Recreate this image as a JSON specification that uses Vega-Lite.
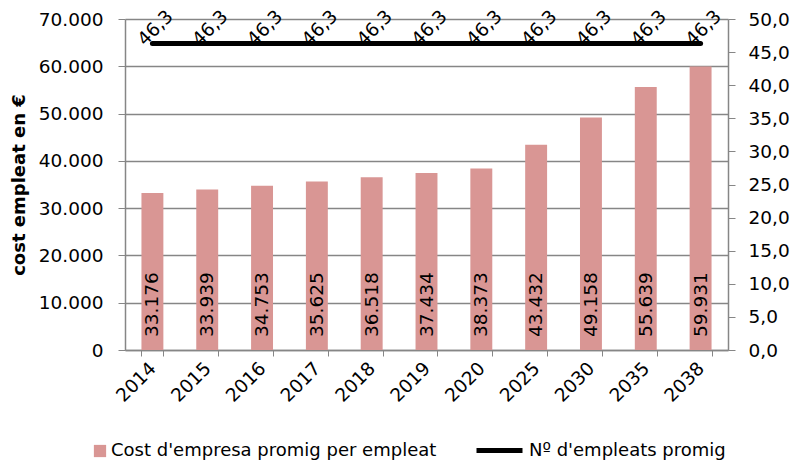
{
  "$schema": "https://vega.github.io/schema/vega-lite/v6.json",
  "width": 603,
  "height": 331,
  "autosize": {"type": "none"},
  "padding": {"left": 125, "top": 19, "right": 64, "bottom": 115},
  "background": "white",
  "config": {
    "locale": {"number": {"decimal": ",", "thousands": ".", "grouping": [3], "currency": ["", " €"]}},
    "font": "DejaVu Sans",
    "view": {"stroke": null},
    "axis": {"labelFont": "DejaVu Sans", "labelFontSize": 18.5, "labelColor": "black", "domainColor": "#868686", "tickColor": "#868686", "gridColor": "#868686", "titleFont": "DejaVu Sans", "labelOverlap": false},
    "legend": {"labelFont": "DejaVu Sans", "labelFontSize": 18, "labelColor": "black", "labelLimit": 600}
  },
  "data": {
    "values": [
      {"any": "2014", "cost": 33176, "emp": 46.3},
      {"any": "2015", "cost": 33939, "emp": 46.3},
      {"any": "2016", "cost": 34753, "emp": 46.3},
      {"any": "2017", "cost": 35625, "emp": 46.3},
      {"any": "2018", "cost": 36518, "emp": 46.3},
      {"any": "2019", "cost": 37434, "emp": 46.3},
      {"any": "2020", "cost": 38373, "emp": 46.3},
      {"any": "2025", "cost": 43432, "emp": 46.3},
      {"any": "2030", "cost": 49158, "emp": 46.3},
      {"any": "2035", "cost": 55639, "emp": 46.3},
      {"any": "2038", "cost": 59931, "emp": 46.3}
    ]
  },
  "encoding": {
    "x": {
      "field": "any", "type": "nominal", "sort": null,
      "scale": {"paddingInner": 0.6, "paddingOuter": 0.3},
      "axis": {"title": null, "labelAngle": -45, "labelAlign": "right", "labelBaseline": "middle", "tickBand": "extent", "tickSize": 6, "labelPadding": 9, "domainWidth": 1.5, "grid": false, "labelOverlap": false}
    }
  },
  "layer": [
    {
      "encoding": {
        "y": {"field": "cost", "type": "quantitative", "scale": {"domain": [0, 70000]},
          "axis": {"title": "cost empleat en €", "titleFontSize": 18, "titleFontWeight": "bold", "titlePadding": 10, "format": ",d", "values": [0,10000,20000,30000,40000,50000,60000,70000], "tickSize": 7, "labelPadding": 15, "grid": true, "gridWidth": 1.5, "domainWidth": 1.5, "labelOverlap": false}}
      },
      "layer": [
        {
          "mark": {"type": "bar"},
          "encoding": {
            "fill": {"datum": "Cost d'empresa promig per empleat", "type": "nominal",
              "scale": {"range": ["#D99694"]},
              "legend": {"title": null, "orient": "none", "legendX": -34, "legendY": 423, "symbolType": "square", "symbolSize": 150, "symbolStrokeWidth": 0, "labelOffset": 2, "padding": 0}}
          }
        },
        {
          "mark": {"type": "text", "angle": -90, "align": "left", "baseline": "middle", "dx": 13, "fontSize": 18.5, "color": "black"},
          "encoding": {
            "y": {"datum": 0, "type": "quantitative"},
            "text": {"field": "cost", "type": "quantitative", "format": ",d"}
          }
        }
      ]
    },
    {
      "encoding": {
        "y": {"field": "emp", "type": "quantitative", "scale": {"domain": [0, 50]},
          "axis": {"orient": "right", "title": null, "format": ".1f", "values": [0,5,10,15,20,25,30,35,40,45,50], "tickSize": 7, "labelPadding": 13, "grid": false, "domainWidth": 1.5, "labelOverlap": false}}
      },
      "layer": [
        {
          "mark": {"type": "line", "strokeWidth": 5, "strokeCap": "round"},
          "encoding": {
            "stroke": {"datum": "Nº d'empleats promig", "type": "nominal",
              "scale": {"range": ["black"]},
              "legend": {"title": null, "orient": "none", "legendX": 349, "legendY": 406, "symbolType": "stroke", "symbolSize": 2116, "symbolStrokeWidth": 5, "labelOffset": 4, "padding": 0}}
          }
        },
        {
          "mark": {"type": "text", "angle": -45, "align": "center", "baseline": "middle", "dx": 13, "dy": -9, "fontSize": 18.5, "color": "black"},
          "encoding": {
            "text": {"field": "emp", "type": "quantitative", "format": ".1f"}
          }
        }
      ]
    }
  ],
  "resolve": {"scale": {"y": "independent", "fill": "independent", "stroke": "independent"}}
}
